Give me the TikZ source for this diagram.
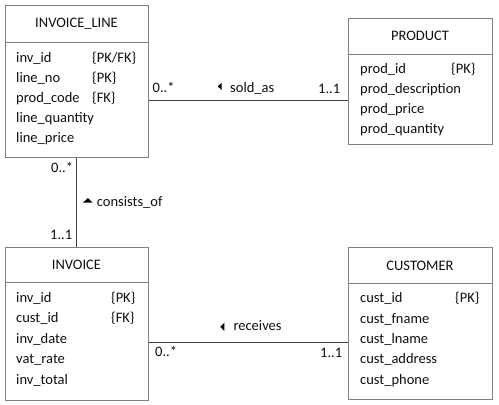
\documentclass[tikz,border=0pt]{standalone}
\usepackage{fontspec}
\setmainfont{Carlito}
\definecolor{boxgray}{HTML}{808080}
\definecolor{conngray}{HTML}{404040}
\definecolor{txt}{HTML}{101010}
\begin{document}
\begin{tikzpicture}[x=1pt,y=-1pt,
  box/.style={draw=boxgray, line width=1pt, inner sep=0pt, fill=white},
  sep/.style={draw=boxgray, line width=1pt},
  conn/.style={draw=conngray, line width=1pt},
  attr/.style={anchor=base west, inner sep=0pt, text=txt, font=\fontsize{14.5}{17}\selectfont},
  ttl/.style={anchor=base, inner sep=0pt, text=txt, font=\fontsize{14.5}{17}\selectfont},
  tri/.style={fill=black}]
\useasboundingbox (0,0) rectangle (499,405);
% boxes
\node[box, minimum width=143pt, minimum height=152pt] (il) at (76.5,81) {};
\node[box, minimum width=144pt, minimum height=126pt] (pr) at (420,81) {};
\node[box, minimum width=143pt, minimum height=153pt] (inv) at (76.5,323.5) {};
\node[box, minimum width=144pt, minimum height=152pt] (cu) at (420,323) {};
% separators
\draw[sep] (il.west |- 0,42) -- (il.east |- 0,42);
\draw[sep] (pr.west |- 0,54) -- (pr.east |- 0,54);
\draw[sep] (inv.west |- 0,282) -- (inv.east |- 0,282);
\draw[sep] (cu.west |- 0,283) -- (cu.east |- 0,283);
% titles
\node[ttl] (ilt) at (76.5,27.5) {INVOICE\_LINE};
\node[ttl] (prt) at (420,40) {PRODUCT};
\node[ttl] (invt) at (76.5,269.5) {INVOICE};
\node[ttl] (cut) at (420,270) {CUSTOMER};
% INVOICE_LINE attributes
\node[attr] (il1) at (16,62) {inv\_id};
\node[attr] (il2) at (16,82) {line\_no};
\node[attr] (il3) at (16,102) {prod\_code};
\node[attr] (il4) at (16,122) {line\_quantity};
\node[attr] (il5) at (16,142) {line\_price};
\node[attr] (ilk1) at (92,62) {\{PK/FK\}};
\node[attr] (ilk2) at (92,82) {\{PK\}};
\node[attr] (ilk3) at (92,102) {\{FK\}};
% PRODUCT attributes
\node[attr] (pr1) at (360,73) {prod\_id};
\node[attr] (pr2) at (360,93) {prod\_description};
\node[attr] (pr3) at (360,113) {prod\_price};
\node[attr] (pr4) at (360,133) {prod\_quantity};
\node[attr] (prk1) at (451,73) {\{PK\}};
% INVOICE attributes
\node[attr] (inv1) at (16,302) {inv\_id};
\node[attr] (inv2) at (16,322.5) {cust\_id};
\node[attr] (inv3) at (16,343) {inv\_date};
\node[attr] (inv4) at (16,363) {vat\_rate};
\node[attr] (inv5) at (16,384) {inv\_total};
\node[attr] (invk1) at (111,302) {\{PK\}};
\node[attr] (invk2) at (111,322.5) {\{FK\}};
% CUSTOMER attributes
\node[attr] (cu1) at (360,302) {cust\_id};
\node[attr] (cu2) at (360,323) {cust\_fname};
\node[attr] (cu3) at (360,343) {cust\_lname};
\node[attr] (cu4) at (360,363) {cust\_address};
\node[attr] (cu5) at (360,384) {cust\_phone};
\node[attr] (cuk1) at (455,302) {\{PK\}};
% connectors
\draw[conn] (il.east |- 0,100) -- (pr.west |- 0,100);
\draw[conn] (il.south) -- (inv.north);
\draw[conn] (inv.east |- 0,342) -- (cu.west |- 0,342);
% sold_as labels
\node[attr] (sa1) at (152.5,92) {0..*};
\node[attr] (sa2) at (230,92) {sold\_as};
\node[attr] (sa3) at (318,93) {1..1};
\fill[tri] (221.7,82.7) -- (221.7,90) -- (217.7,86.35) -- cycle;
% consists_of labels
\node[attr] (co1) at (51,172) {0..*};
\node[attr] (co2) at (96.7,206.5) {consists\_of};
\node[attr] (co3) at (50,239.5) {1..1};
\fill[tri] (83,202.7) -- (92.7,202.7) -- (87.85,198) -- cycle;
% receives labels
\node[attr] (re1) at (155,356.5) {0..*};
\node[attr] (re2) at (233.3,330.7) {receives};
\node[attr] (re3) at (320,357) {1..1};
\fill[tri] (224.3,322.7) -- (224.3,331) -- (220.3,326.85) -- cycle;
\end{tikzpicture}
\end{document}
